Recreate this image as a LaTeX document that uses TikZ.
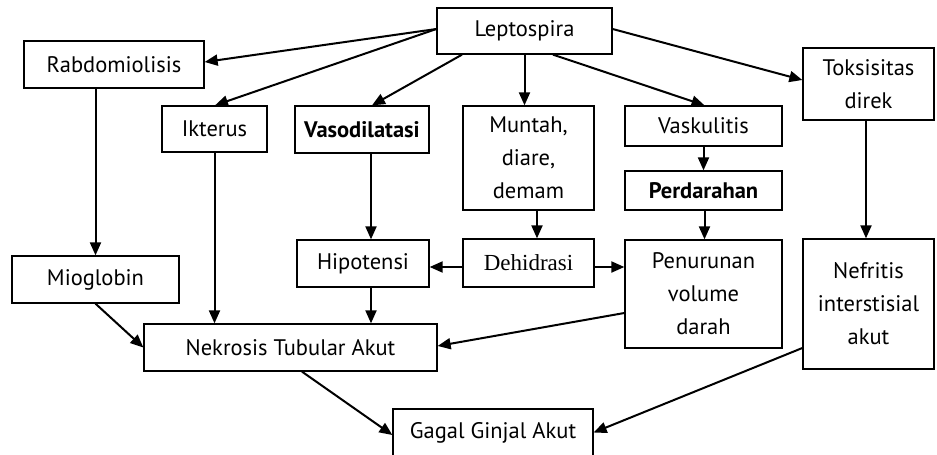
\documentclass[tikz,border=0pt]{standalone}
\usepackage{fontspec}
\setmainfont{PT Sans}
\newfontfamily\serifdeh{Liberation Serif}
\usetikzlibrary{arrows.meta}
\begin{document}
\begin{tikzpicture}[x=1pt,y=-1pt,
 box/.style={draw, line width=1.3pt, inner sep=0pt, align=center, font=\fontsize{22.5}{33}\selectfont},
 arr/.style={line width=2pt, -{Triangle[length=13pt,width=11pt]}}]
\useasboundingbox (0,0) rectangle (937,455);
\node[box, minimum width=175pt, minimum height=46pt] (lep) at (524.5,31) {Leptospira};
\node[box, minimum width=180pt, minimum height=47pt] (rab) at (114,64.5) {Rabdomiolisis};
\node[box, minimum width=105pt, minimum height=46pt] (ikt) at (214.5,129) {Ikterus};
\node[box, minimum width=134pt, minimum height=47pt] (vas) at (362,129.5) {\bfseries Vasodilatasi};
\node[box, minimum width=131pt, minimum height=104pt] (mun) at (528.5,158) {Muntah,\\diare,\\demam};
\node[box, minimum width=157pt, minimum height=40pt] (vask) at (703.5,126) {Vaskulitis};
\node[box, minimum width=157pt, minimum height=39pt] (per) at (703.5,190.5) {\bfseries Perdarahan};
\node[box, minimum width=131pt, minimum height=72pt] (tok) at (868.5,84) {Toksisitas\\direk};
\node[box, minimum width=167pt, minimum height=47pt] (mio) at (95.5,279.5) {Mioglobin};
\node[box, minimum width=132pt, minimum height=47pt] (hip) at (363,263.5) {Hipotensi};
\node[box, minimum width=131pt, minimum height=48pt, font=\serifdeh\fontsize{23}{28}\selectfont] (deh) at (528.5,263) {Dehidrasi};
\node[box, minimum width=157pt, minimum height=108pt] (pen) at (703.5,294) {Penurunan\\volume\\darah};
\node[box, minimum width=131pt, minimum height=130pt] (nef) at (868.5,304) {Nefritis\\interstisial\\akut};
\node[box, minimum width=293pt, minimum height=47pt] (nek) at (290.5,347.5) {Nekrosis Tubular Akut};
\node[box, minimum width=200pt, minimum height=47pt] (gag) at (493,432.5) {Gagal Ginjal Akut};
% arrows from Leptospira
\draw[arr] ([yshift=2pt]lep.west) -- ([yshift=2.5pt]rab.east);
\draw[arr] ([yshift=2pt]lep.west) -- ([xshift=0.5pt]ikt.north);
\draw[arr] ([xshift=-62.5pt]lep.south) -- ([xshift=10pt]vas.north);
\draw[arr] (lep.south) -- (lep.south |- mun.north);
\draw[arr] ([xshift=28.5pt]lep.south) -- ([xshift=1pt]vask.north);
\draw[arr] ([yshift=2pt]lep.east) -- ([yshift=4pt]tok.west);
% vertical arrows
\draw[arr] (vask.south) -- (per.north);
\draw[arr] (mio.north |- rab.south) -- (mio.north);
\draw[arr] (ikt.south) -- (ikt.south |- nek.north);
\draw[arr] ([xshift=9pt]vas.south) -- ([xshift=8pt]hip.north);
\draw[arr] ([xshift=8pt]hip.south) -- ([xshift=8pt]hip.south |- nek.north);
\draw[arr] ([xshift=8.5pt]mun.south) -- ([xshift=8.5pt]deh.north);
\draw[arr] ([xshift=1pt]per.south) -- ([xshift=1pt]pen.north);
\draw[arr] ([xshift=-2.5pt]tok.south) -- ([xshift=-2.5pt]nef.north);
% horizontal from Dehidrasi
\draw[arr] ([yshift=-4pt]deh.west) -- ([yshift=-4pt]deh.west -| hip.east);
\draw[arr] ([yshift=-4pt]deh.east) -- ([yshift=-4pt]deh.east -| pen.west);
% into Nekrosis
\draw[arr] (mio.south) -- (nek.west);
\draw[arr] ([yshift=-19pt]pen.west) -- ([yshift=1.5pt]nek.east);
% into Gagal
\draw[arr] ([xshift=11.5pt]nek.south) -- ([yshift=-2.5pt]gag.west);
\draw[arr] ([yshift=-44pt]nef.west) -- (gag.east);
\end{tikzpicture}
\end{document}
